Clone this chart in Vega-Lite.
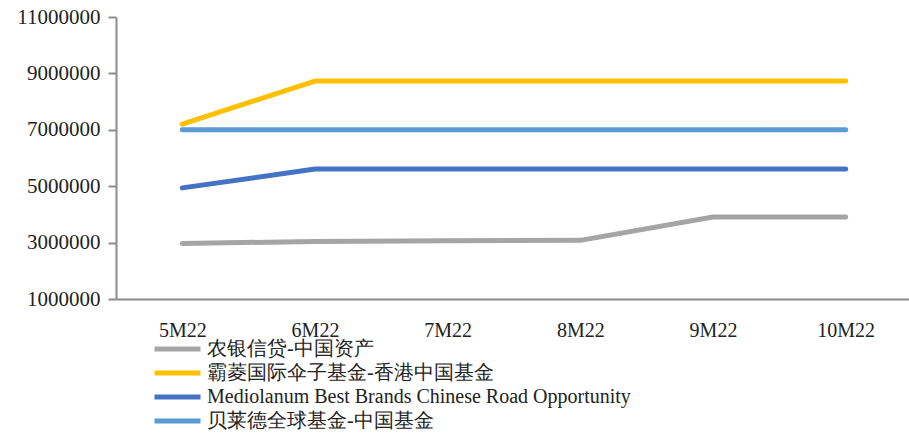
{
  "$schema": "https://vega.github.io/schema/vega-lite/v6.json",
  "autosize": {"type": "none"},
  "width": 796,
  "height": 282,
  "padding": {"left": 116, "top": 17, "right": 0, "bottom": 135},
  "background": "white",
  "config": {
    "view": {"stroke": null},
    "font": "Liberation Serif"
  },
  "data": {
    "values": [
      {"m": "5M22", "s": "农银信贷-中国资产", "v": 2970000},
      {"m": "6M22", "s": "农银信贷-中国资产", "v": 3040000},
      {"m": "7M22", "s": "农银信贷-中国资产", "v": 3070000},
      {"m": "8M22", "s": "农银信贷-中国资产", "v": 3080000},
      {"m": "9M22", "s": "农银信贷-中国资产", "v": 3910000},
      {"m": "10M22", "s": "农银信贷-中国资产", "v": 3910000},
      {"m": "5M22", "s": "霸菱国际伞子基金-香港中国基金", "v": 7200000},
      {"m": "6M22", "s": "霸菱国际伞子基金-香港中国基金", "v": 8730000},
      {"m": "7M22", "s": "霸菱国际伞子基金-香港中国基金", "v": 8730000},
      {"m": "8M22", "s": "霸菱国际伞子基金-香港中国基金", "v": 8730000},
      {"m": "9M22", "s": "霸菱国际伞子基金-香港中国基金", "v": 8730000},
      {"m": "10M22", "s": "霸菱国际伞子基金-香港中国基金", "v": 8730000},
      {"m": "5M22", "s": "Mediolanum Best Brands Chinese Road Opportunity", "v": 4940000},
      {"m": "6M22", "s": "Mediolanum Best Brands Chinese Road Opportunity", "v": 5610000},
      {"m": "7M22", "s": "Mediolanum Best Brands Chinese Road Opportunity", "v": 5610000},
      {"m": "8M22", "s": "Mediolanum Best Brands Chinese Road Opportunity", "v": 5610000},
      {"m": "9M22", "s": "Mediolanum Best Brands Chinese Road Opportunity", "v": 5610000},
      {"m": "10M22", "s": "Mediolanum Best Brands Chinese Road Opportunity", "v": 5610000},
      {"m": "5M22", "s": "贝莱德全球基金-中国基金", "v": 7000000},
      {"m": "6M22", "s": "贝莱德全球基金-中国基金", "v": 7000000},
      {"m": "7M22", "s": "贝莱德全球基金-中国基金", "v": 7000000},
      {"m": "8M22", "s": "贝莱德全球基金-中国基金", "v": 7000000},
      {"m": "9M22", "s": "贝莱德全球基金-中国基金", "v": 7000000},
      {"m": "10M22", "s": "贝莱德全球基金-中国基金", "v": 7000000}
    ]
  },
  "mark": {"type": "line", "strokeWidth": 5, "strokeCap": "round", "strokeJoin": "round"},
  "encoding": {
    "x": {
      "field": "m", "type": "ordinal", "sort": ["5M22", "6M22", "7M22", "8M22", "9M22", "10M22"],
      "scale": {"paddingInner": 0, "paddingOuter": 0.5},
      "axis": {
        "title": null, "labelAngle": 0, "ticks": false, "grid": false,
        "domainColor": "#8c8c8c", "domainWidth": 2,
        "labelFontSize": 20, "labelColor": "#222", "labelPadding": 21,
        "labelFont": "Liberation Serif"
      }
    },
    "y": {
      "field": "v", "type": "quantitative",
      "scale": {"domain": [1000000, 11000000], "nice": false, "zero": false},
      "axis": {
        "title": null, "grid": false,
        "values": [1000000, 3000000, 5000000, 7000000, 9000000, 11000000],
        "format": "d",
        "domainColor": "#8c8c8c", "domainWidth": 2,
        "tickColor": "#8c8c8c", "tickSize": 8, "tickWidth": 2,
        "labelFontSize": 21, "labelColor": "#222", "labelPadding": 8,
        "labelFont": "Liberation Serif"
      }
    },
    "color": {
      "field": "s", "type": "nominal",
      "sort": ["农银信贷-中国资产", "霸菱国际伞子基金-香港中国基金", "Mediolanum Best Brands Chinese Road Opportunity", "贝莱德全球基金-中国基金"],
      "scale": {
        "domain": ["农银信贷-中国资产", "霸菱国际伞子基金-香港中国基金", "Mediolanum Best Brands Chinese Road Opportunity", "贝莱德全球基金-中国基金"],
        "range": ["#A5A5A5", "#FFC000", "#4472C4", "#5B9BD5"]
      },
      "legend": {
        "title": null, "orient": "none", "legendX": 36, "legendY": 318,
        "direction": "vertical",
        "symbolType": "M-1,0H3", "symbolSize": 529, "symbolStrokeWidth": 5,
        "labelFontSize": 20, "labelColor": "#222", "labelLimit": 800,
        "labelFont": "Liberation Serif", "rowPadding": 0, "labelOffset": 27
      }
    }
  }
}
